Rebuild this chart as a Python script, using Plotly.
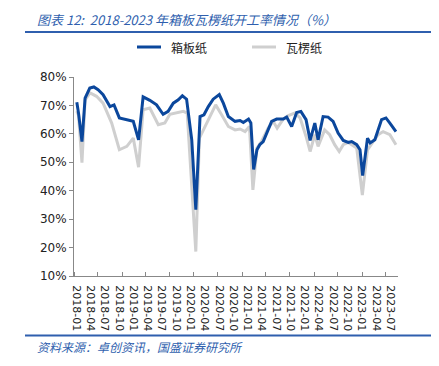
import plotly.graph_objects as go

# 箱板纸 (containerboard) operating rate, %
blue_dates = ["2018-01-03", "2018-01-14", "2018-02-05", "2018-02-25", "2018-03-27", "2018-04-22",
              "2018-05-19", "2018-06-20", "2018-08-03", "2018-08-29", "2018-10-02", "2018-11-08",
              "2018-12-30", "2019-02-02", "2019-03-03", "2019-04-15", "2019-05-28", "2019-07-09",
              "2019-08-10", "2019-09-12", "2019-10-14", "2019-11-09", "2019-12-06", "2020-01-08",
              "2020-02-03", "2020-03-01", "2020-03-26", "2020-04-23", "2020-05-24", "2020-07-02",
              "2020-07-28", "2020-08-29", "2020-10-11", "2020-11-12", "2020-12-03", "2021-01-05",
              "2021-01-20", "2021-02-07", "2021-02-28", "2021-03-18", "2021-04-09", "2021-06-02",
              "2021-07-04", "2021-08-15", "2021-09-06", "2021-10-08", "2021-11-09", "2021-12-06",
              "2022-01-08", "2022-02-03", "2022-03-05", "2022-03-26", "2022-04-27", "2022-05-29",
              "2022-06-30", "2022-08-01", "2022-09-03", "2022-10-05", "2022-10-27", "2022-11-28",
              "2022-12-19", "2023-01-05", "2023-02-05", "2023-02-22", "2023-03-24", "2023-05-06",
              "2023-06-03", "2023-06-28", "2023-08-06"]
blue_vals = [71.1, 67.3, 57.3, 72.6, 76.1, 76.5,
             75.5, 73.8, 69.6, 70.2, 65.6, 65.2,
             64.4, 57.9, 73.0, 71.8, 70.2, 66.9,
             67.9, 70.8, 72.0, 73.4, 72.2, 57.9,
             33.3, 66.1, 66.7, 69.6, 72.2, 73.8,
             70.8, 66.1, 64.4, 64.7, 64.0, 65.2,
             63.8, 47.5, 54.4, 56.2, 57.3, 64.4,
             65.2, 65.2, 65.9, 62.6, 67.5, 67.9,
             65.0, 57.7, 63.8, 57.9, 66.1, 65.9,
             64.4, 60.3, 57.7, 57.0, 57.3, 56.2,
             54.4, 45.3, 58.5, 56.8, 57.9, 65.0,
             65.6, 63.8, 60.8]

# 瓦楞纸 (corrugated paper) operating rate, %
gray_dates = ["2018-01-03", "2018-01-14", "2018-02-05", "2018-02-25", "2018-03-29", "2018-05-09",
              "2018-06-20", "2018-08-14", "2018-10-02", "2018-11-19", "2018-12-30", "2019-02-02",
              "2019-03-03", "2019-04-15", "2019-06-08", "2019-07-20", "2019-08-21", "2019-10-03",
              "2019-11-15", "2019-12-10", "2020-02-03", "2020-02-26", "2020-04-02", "2020-05-03",
              "2020-06-09", "2020-07-17", "2020-08-29", "2020-10-11", "2020-11-12", "2020-12-14",
              "2021-01-11", "2021-02-02", "2021-02-28", "2021-03-29", "2021-05-10", "2021-06-12",
              "2021-07-07", "2021-08-15", "2021-09-16", "2021-10-29", "2021-12-01", "2022-01-08",
              "2022-02-03", "2022-03-05", "2022-03-26", "2022-05-07", "2022-06-08", "2022-07-10",
              "2022-08-08", "2022-09-03", "2022-10-05", "2022-10-27", "2022-11-28", "2023-01-03",
              "2023-02-05", "2023-03-13", "2023-04-14", "2023-05-16", "2023-06-28", "2023-08-06"]
gray_vals = [68.0, 66.5, 49.9, 72.0, 74.4, 73.2,
             70.8, 63.8, 54.4, 55.6, 58.5, 48.3,
             68.5, 69.1, 63.2, 63.8, 66.9, 67.5,
             67.9, 67.3, 18.6, 58.5, 62.6, 66.1,
             70.2, 66.7, 62.6, 61.4, 61.7, 60.8,
             62.6, 40.3, 55.0, 57.3, 62.0, 64.4,
             62.0, 65.2, 66.4, 67.3, 65.6, 59.1,
             53.8, 59.7, 55.6, 61.4, 59.7, 56.2,
             53.8, 56.2, 57.0, 56.2, 55.0, 38.5,
             54.4, 57.3, 59.7, 60.8, 59.7, 56.2]

series_names = ["箱板纸", "瓦楞纸"]
y_ticks = [10, 20, 30, 40, 50, 60, 70, 80]
y_ticktext = ["10%", "20%", "30%", "40%", "50%", "60%", "70%", "80%"]
x_tickvals = ["2018-01-01", "2018-04-01", "2018-07-01", "2018-10-01", "2019-01-01", "2019-04-01",
              "2019-07-01", "2019-10-01", "2020-01-01", "2020-04-01", "2020-07-01", "2020-10-01",
              "2021-01-01", "2021-04-01", "2021-07-01", "2021-10-01", "2022-01-01", "2022-04-01",
              "2022-07-01", "2022-10-01", "2023-01-01", "2023-04-01", "2023-07-01"]
x_ticktext = [d[:7] for d in x_tickvals]
x_tickmarks = ["2017-12-16", "2018-05-18", "2018-10-19", "2019-03-20", "2019-08-21", "2020-01-22",
               "2020-06-23", "2020-11-25", "2021-04-26", "2021-09-27", "2022-02-28", "2022-07-30",
               "2023-01-01", "2023-06-02"]

title_text = "图表 12:  2018-2023 年箱板瓦楞纸开工率情况（%）"
source_text = "资料来源：卓创资讯，国盛证券研究所"

BLUE = "#0b479c"
GRAY = "#cfcfcf"
ACCENT = "#2f5fae"
CJK = "Noto Sans CJK SC"

fig = go.Figure()
fig.add_trace(go.Scatter(x=gray_dates, y=gray_vals, mode="lines", name=series_names[1],
                         line=dict(color=GRAY, width=3)))
fig.add_trace(go.Scatter(x=blue_dates, y=blue_vals, mode="lines", name=series_names[0],
                         line=dict(color=BLUE, width=3)))

# page body has an 8px default margin; compensate so the picture lines up with the window
OFF = 8
W, H = 439 - OFF, 366 - OFF
L = 74 - OFF
T = 77 - OFF
R = W - (398 - OFF)
B = H - (276 - OFF)
pw = W - L - R
ph = H - T - B

def px_x(p):
    return (p - OFF - L) / pw

def px_y(p):
    return (H - B - (p - OFF)) / ph

fig.update_layout(
    width=W, height=H,
    margin=dict(l=L, r=R, t=T, b=B, autoexpand=False),
    paper_bgcolor="white", plot_bgcolor="white",
    showlegend=False,
    xaxis=dict(type="date", range=["2017-12-16", "2023-08-19"], automargin=False,
               tickmode="array", tickvals=x_tickvals, ticktext=x_ticktext,
               tickangle=90, ticks="", ticklabelstandoff=6, showgrid=False, zeroline=False,
               showline=True, linecolor="#888", linewidth=1,
               tickfont=dict(family="DejaVu Sans", size=11, color="#222"),
               minor=dict(tickmode="array", tickvals=x_tickmarks, ticks="inside",
                          ticklen=4, tickcolor="#888", showgrid=False)),
    yaxis=dict(range=[10, 80], automargin=False, tickmode="array", tickvals=y_ticks,
               ticktext=y_ticktext,
               ticks="outside", ticklen=4, tickcolor="#888", showgrid=False, zeroline=False,
               showline=True, linecolor="#888", linewidth=1,
               tickfont=dict(family="DejaVu Sans", size=12, color="#222")),
    font=dict(family=CJK),
)

# manual legend
legend_items = [(series_names[0], BLUE, 137), (series_names[1], GRAY, 252)]
for name, col, x0 in legend_items:
    fig.add_shape(type="line", xref="paper", yref="paper", x0=px_x(x0), x1=px_x(x0 + 24),
                  y0=px_y(47), y1=px_y(47), line=dict(color=col, width=3))
    fig.add_annotation(text=name, xref="paper", yref="paper", x=px_x(x0 + 32), y=px_y(47),
                       xanchor="left", yanchor="middle", showarrow=False,
                       font=dict(family=CJK, size=12, color="#222"))

fig.add_annotation(text=title_text, xref="paper", yref="paper", x=px_x(35), y=px_y(19.5),
                   xanchor="left", yanchor="middle", showarrow=False,
                   font=dict(family=CJK, size=13, color=ACCENT, style="italic"))
fig.add_annotation(text=source_text, xref="paper", yref="paper", x=px_x(35), y=px_y(346),
                   xanchor="left", yanchor="middle", showarrow=False,
                   font=dict(family=CJK, size=12, color=ACCENT, style="italic"))
for yy in (32, 335.5):
    fig.add_shape(type="line", xref="paper", yref="paper", x0=px_x(25), x1=px_x(439),
                  y0=px_y(yy), y1=px_y(yy), line=dict(color=ACCENT, width=2))

fig.write_html("out.html")
